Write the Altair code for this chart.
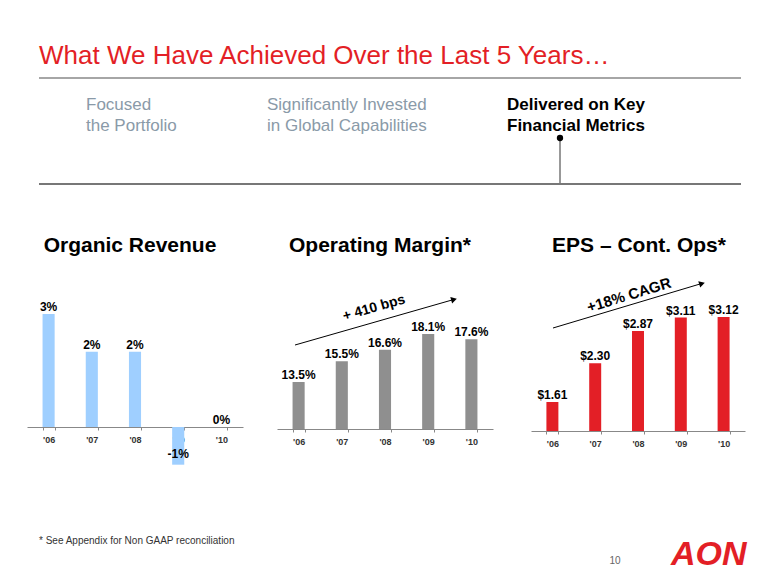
import altair as alt
import pandas as pd

# ---- data ----
years = ["'06", "'07", "'08", "'09", "'10"]
organic_revenue = [3, 2, 2, -1, 0]
operating_margin = [13.5, 15.5, 16.6, 18.1, 17.6]
eps_cont_ops = [1.61, 2.30, 2.87, 3.11, 3.12]

title_text = "What We Have Achieved Over the Last 5 Years\u2026"
chart_titles = ["Organic Revenue", "Operating Margin*", "EPS \u2013 Cont. Ops*"]
footnote = "*  See Appendix for Non GAAP reconciliation"

FONT = "Liberation Sans"
W, H = 764, 569
RED = "#E31F26"
ONE = alt.Data(values=[{}])


def txt(s, x, y, size, color="#000000", weight="normal", align="left",
        baseline="alphabetic", angle=0, style="normal"):
    return alt.Chart(ONE).mark_text(
        font=FONT, fontSize=size, color=color, fontWeight=weight, align=align,
        baseline=baseline, angle=angle, fontStyle=style
    ).encode(x=alt.value(x), y=alt.value(y), text=alt.value(s))


def hline(x1, x2, y, color, width):
    return alt.Chart(ONE).mark_rule(color=color, strokeWidth=width).encode(
        x=alt.value(x1), x2=alt.value(x2), y=alt.value(y))


def seg(x1, y1, x2, y2, color="#000000", width=1):
    return alt.Chart(ONE).mark_rule(color=color, strokeWidth=width).encode(
        x=alt.value(x1), x2=alt.value(x2), y=alt.value(y1), y2=alt.value(y2))


def arrowhead(x, y, angle):
    return alt.Chart(ONE).mark_point(
        shape="triangle-right", filled=True, color="#000000", size=45,
        angle=angle, opacity=1
    ).encode(x=alt.value(x), y=alt.value(y))


def bar_chart(vals, label_expr, xr, dom, yr, base, color, offset):
    df = pd.DataFrame({"year": years, "v": vals})
    x = alt.X(
        "year:N", sort=years, title=None,
        scale=alt.Scale(range=xr, paddingInner=0.72, paddingOuter=0.36),
        axis=alt.Axis(orient="bottom", offset=offset, labelAngle=0,
                      labelFont=FONT, labelFontWeight="bold", labelFontSize=9,
                      labelColor="#333333", tickBand="extent", tickSize=3,
                      tickColor="#888888", domainColor="#888888",
                      labelPadding=5, grid=False),
    )
    y = alt.Y("v:Q", title=None, axis=None,
              scale=alt.Scale(domain=dom, range=yr, zero=False, nice=False))
    bars = alt.Chart(df).mark_bar(color=color).encode(
        x=x, y=y, y2=alt.datum(base))
    base_lab = alt.Chart(df).transform_calculate(lab=label_expr)
    pos = base_lab.transform_filter("datum.v >= 0").mark_text(
        font=FONT, fontSize=12, fontWeight="bold", color="#000000",
        baseline="alphabetic", dy=-3
    ).encode(x=x, y=y, text="lab:N")
    neg = base_lab.transform_filter("datum.v < 0").mark_text(
        font=FONT, fontSize=12, fontWeight="bold", color="#000000",
        baseline="alphabetic", dy=-7
    ).encode(x=x, y=y, text="lab:N")
    return alt.layer(bars, pos, neg)


c1 = bar_chart(organic_revenue,
               "(datum.v < 0 ? '-' : '') + format(abs(datum.v), '.0f') + '%'",
               [19, 235], [-1, 3], [456.7, 306], 0, "#9FCFFF", 419 - H)
c2 = bar_chart(operating_margin, "format(datum.v, '.1f') + '%'",
               [269, 485], [9, 18.1], [421, 326], 9, "#8F8F8F", 421 - H)
c3 = bar_chart(eps_cont_ops, "'$' + format(datum.v, '.2f')",
               [523, 737], [1.095, 3.12], [423, 309], 1.095, RED, 423 - H)

HEAD = "#8A9AA8"
decor = [
    txt(title_text, 31, 56, 26, color=RED),
    hline(31, 733, 70, "#A6A6A6", 2),
    txt("Focused", 78, 102, 17, color=HEAD),
    txt("the Portfolio", 78, 123, 17, color=HEAD),
    txt("Significantly Invested", 259, 102, 17, color=HEAD),
    txt("in Global Capabilities", 259, 123, 17, color=HEAD),
    txt("Delivered on Key", 499, 102, 17, weight="bold"),
    txt("Financial Metrics", 499, 123, 17, weight="bold"),
    seg(552, 130, 552, 176, "#333333", 1),
    alt.Chart(ONE).mark_point(filled=True, color="#000000", size=40, opacity=1)
      .encode(x=alt.value(552), y=alt.value(130)),
    hline(31, 733, 176, "#777777", 2),
    txt(chart_titles[0], 122, 244, 21, weight="bold", align="center"),
    txt(chart_titles[1], 372, 244, 21, weight="bold", align="center"),
    txt(chart_titles[2], 631, 244, 21, weight="bold", align="center"),
    seg(287, 337, 444, 292),
    arrowhead(446, 291.5, 344),
    txt("+ 410 bps", 366, 300, 14, weight="bold", align="center",
        baseline="middle", angle=344),
    seg(545, 320, 692, 276),
    arrowhead(694, 275.5, 343),
    txt("+18% CAGR", 621, 287, 15, weight="bold", align="center",
        baseline="middle", angle=343),
    txt(footnote, 31, 536, 10, color="#333333"),
    txt("10", 607, 553, 10, color="#666666", align="center", baseline="middle"),
    txt("AON", 663, 557, 34, color=RED, weight=900, style="italic"),
]

chart = alt.layer(*decor, c1, c2, c3).resolve_scale(
    x="independent", y="independent"
).properties(
    width=W, height=H, padding=0,
    autosize=alt.AutoSizeParams(type="none"),
    background="#ffffff",
).configure_view(stroke=None)

chart.save("out.html", embed_options={"renderer": "svg", "actions": False})
